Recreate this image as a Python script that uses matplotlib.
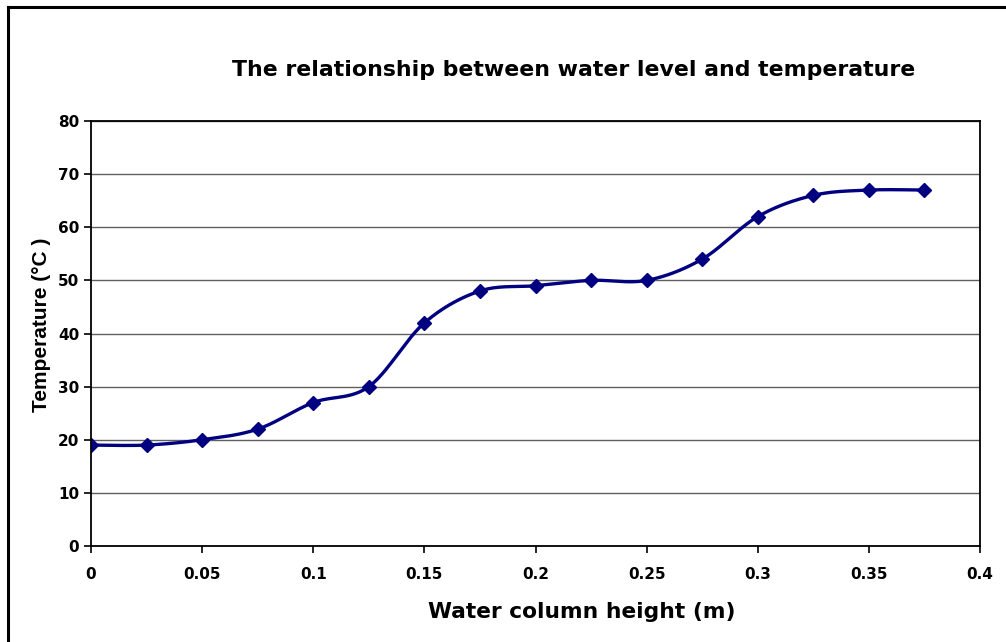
import numpy as np
import matplotlib.pyplot as plt
from matplotlib.lines import Line2D

# water column height (m) and temperature (°C)
height_m = [0, 0.025, 0.05, 0.075, 0.1, 0.125, 0.15, 0.175, 0.2, 0.225,
            0.25, 0.275, 0.3, 0.325, 0.35, 0.375]
temp_c = [19, 19, 20, 22, 27, 30, 42, 48, 49, 50, 50, 54, 62, 66, 67, 67]

x_ticks = [0, 0.05, 0.1, 0.15, 0.2, 0.25, 0.3, 0.35, 0.4]
x_tick_labels = ["0", "0.05", "0.1", "0.15", "0.2", "0.25", "0.3", "0.35", "0.4"]
y_ticks = [0, 10, 20, 30, 40, 50, 60, 70, 80]


def smooth(xs, ys, n=30):
    # Catmull-Rom style smoothing like the spreadsheet "smoothed line"
    xs = np.asarray(xs, float)
    ys = np.asarray(ys, float)
    px = np.concatenate([[xs[0]], xs, [xs[-1]]])
    py = np.concatenate([[ys[0]], ys, [ys[-1]]])
    out_x, out_y = [], []
    t = np.linspace(0, 1, n)
    for i in range(1, len(px) - 2):
        p0 = np.array([px[i], py[i]])
        p3 = np.array([px[i + 1], py[i + 1]])
        c1 = p0 + (np.array([px[i + 1], py[i + 1]]) - np.array([px[i - 1], py[i - 1]])) / 6
        c2 = p3 - (np.array([px[i + 2], py[i + 2]]) - np.array([px[i], py[i]])) / 6
        b = ((1 - t) ** 3)[:, None] * p0 + (3 * (1 - t) ** 2 * t)[:, None] * c1 \
            + (3 * (1 - t) * t ** 2)[:, None] * c2 + (t ** 3)[:, None] * p3
        out_x.extend(b[:, 0])
        out_y.extend(b[:, 1])
    return out_x, out_y


plt.rcParams['font.family'] = ['DejaVu Sans']

fig = plt.figure(figsize=(10.06, 6.42), dpi=100)
ax = fig.add_axes([91 / 1006, 1 - 546 / 642, (980 - 91) / 1006, (546 - 121) / 642])

ax.set_xlim(0, 0.4)
ax.set_ylim(0, 80)
ax.set_yticks(y_ticks)
ax.set_xticks(x_ticks)
ax.set_xticklabels(x_tick_labels)
ax.grid(True, axis='y', color='#606060', linewidth=1.0)
ax.set_axisbelow(True)

sx, sy = smooth(height_m, temp_c)
ax.plot(sx, sy, color='#000080', linewidth=2.4, solid_capstyle='round')
ax.plot(height_m, temp_c, linestyle='none', marker='D', markersize=7.5,
        color='#000080')

for s in ax.spines.values():
    s.set_color('black')
    s.set_linewidth(1.3)
ax.tick_params(direction='out', length=5, width=1.2, colors='black',
               labelsize=11)
ax.tick_params(axis='x', pad=10)
for lbl in ax.get_xticklabels() + ax.get_yticklabels():
    lbl.set_fontweight('bold')

fig.text(574 / 1006, 1 - 70 / 642,
         'The relationship between water level and temperature',
         ha='center', va='center', fontsize=15.8, fontweight='bold')
fig.text(582 / 1006, 1 - 612 / 642, 'Water column height (m)',
         ha='center', va='center', fontsize=15.7, fontweight='bold')
fig.text(42 / 1006, 1 - 325 / 642, 'Temperature (°C )', rotation=90,
         ha='center', va='center', fontsize=15, fontweight='bold',
         family=['Liberation Sans Narrow', 'Liberation Sans', 'DejaVu Sans'])

# outer frame of the chart area (left and top edges visible)
fig.add_artist(Line2D([8 / 1006, 8 / 1006], [0, 1 - 7 / 642],
                      transform=fig.transFigure, color='black', linewidth=2.2))
fig.add_artist(Line2D([8 / 1006, 1], [1 - 7 / 642, 1 - 7 / 642],
                      transform=fig.transFigure, color='black', linewidth=2.2))

fig.savefig('out.png', dpi=100)
